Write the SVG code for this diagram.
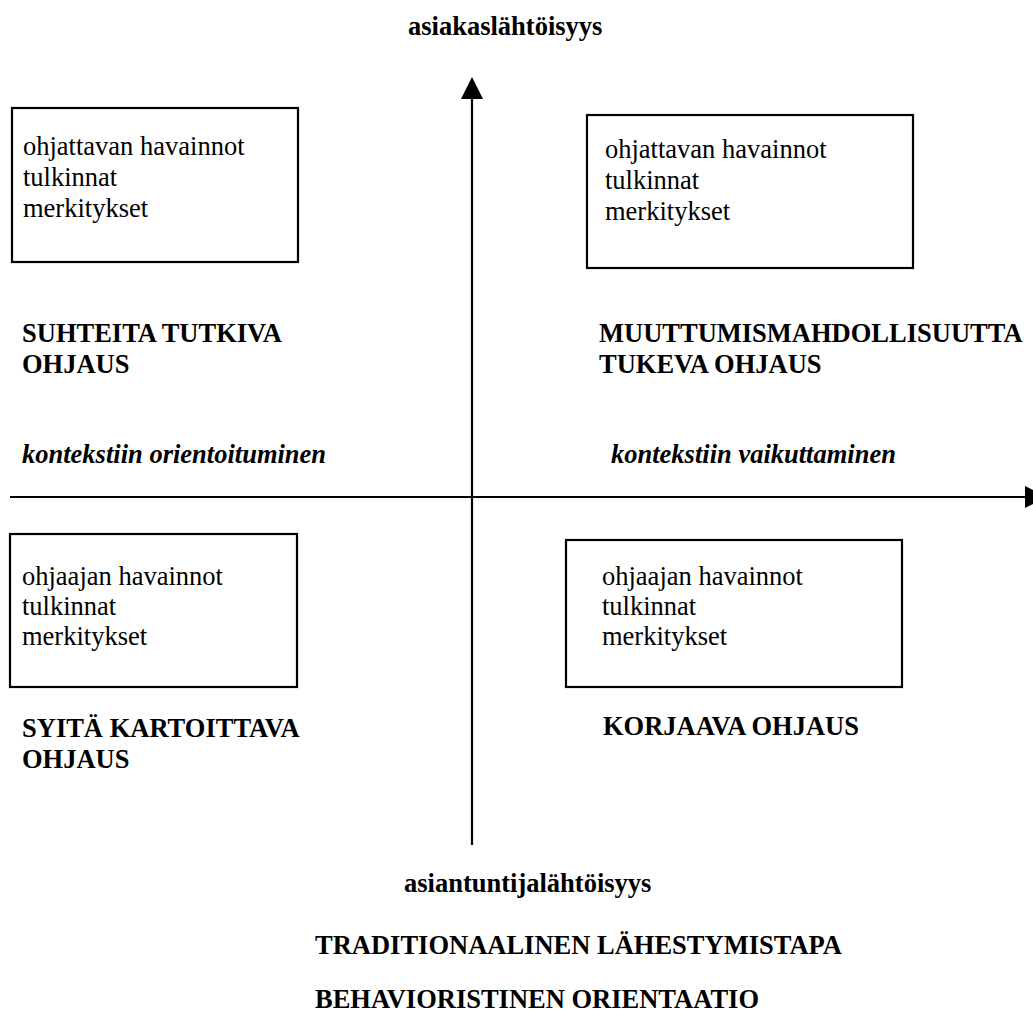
<svg xmlns="http://www.w3.org/2000/svg" width="1033" height="1016" viewBox="0 0 1033 1016">
  <style>
    text { font-family: "Liberation Serif", "Times New Roman", serif; font-size: 26.5px; fill: #000; }
    .b { font-weight: bold; }
    .bi { font-weight: bold; font-style: italic; }
    .box { fill: #fff; stroke: #000; stroke-width: 2.2; }
    .axis { stroke: #000; stroke-width: 2.2; fill: none; }
    .head { fill: #000; stroke: none; }
  </style>
  <rect width="1033" height="1016" fill="#fff"/>

  <!-- axes -->
  <g id="connectors">
    <line class="axis" x1="472" y1="97" x2="472" y2="845"/>
    <polygon class="head" points="472,77 461,99 483,99"/>
    <line class="axis" x1="10" y1="497" x2="1030" y2="497"/>
    <polygon class="head" points="1025,486 1025,508 1047,497"/>
  </g>

  <!-- axis labels -->
  <g id="label-top"><text class="b" x="408" y="35">asiakaslähtöisyys</text></g>
  <g id="label-bottom"><text class="b" x="404" y="892">asiantuntijalähtöisyys</text></g>
  <g id="label-left"><text class="bi" x="22" y="463">kontekstiin orientoituminen</text></g>
  <g id="label-right"><text class="bi" x="611" y="463">kontekstiin vaikuttaminen</text></g>

  <!-- top-left quadrant -->
  <g id="box-top-left">
    <rect class="box" x="12" y="108" width="286" height="154"/>
    <text x="23" y="155">ohjattavan havainnot</text>
    <text x="23" y="186">tulkinnat</text>
    <text x="23" y="217">merkitykset</text>
  </g>
  <g id="title-top-left">
    <text class="b" x="22" y="342">SUHTEITA TUTKIVA</text>
    <text class="b" x="22" y="373">OHJAUS</text>
  </g>

  <!-- top-right quadrant -->
  <g id="box-top-right">
    <rect class="box" x="587" y="115" width="326" height="153"/>
    <text x="605" y="158">ohjattavan havainnot</text>
    <text x="605" y="189">tulkinnat</text>
    <text x="605" y="220">merkitykset</text>
  </g>
  <g id="title-top-right">
    <text class="b" x="599" y="342">MUUTTUMISMAHDOLLISUUTTA</text>
    <text class="b" x="599" y="373">TUKEVA OHJAUS</text>
  </g>

  <!-- bottom-left quadrant -->
  <g id="box-bottom-left">
    <rect class="box" x="10" y="534" width="287" height="153"/>
    <text x="22" y="585">ohjaajan havainnot</text>
    <text x="22" y="615">tulkinnat</text>
    <text x="22" y="645">merkitykset</text>
  </g>
  <g id="title-bottom-left">
    <text class="b" x="22" y="737">SYITÄ KARTOITTAVA</text>
    <text class="b" x="22" y="768">OHJAUS</text>
  </g>

  <!-- bottom-right quadrant -->
  <g id="box-bottom-right">
    <rect class="box" x="566" y="540" width="336" height="147"/>
    <text x="602" y="585">ohjaajan havainnot</text>
    <text x="602" y="615">tulkinnat</text>
    <text x="602" y="645">merkitykset</text>
  </g>
  <g id="title-bottom-right">
    <text class="b" x="603" y="735">KORJAAVA OHJAUS</text>
  </g>

  <!-- approach captions -->
  <g id="caption-approach"><text class="b" x="315" y="954">TRADITIONAALINEN LÄHESTYMISTAPA</text></g>
  <g id="caption-orientation"><text class="b" x="315" y="1008">BEHAVIORISTINEN ORIENTAATIO</text></g>
</svg>
